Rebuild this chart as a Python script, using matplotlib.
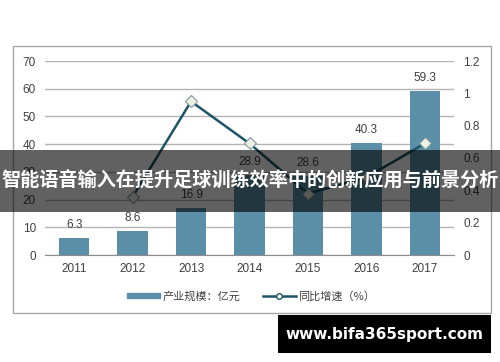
import matplotlib
matplotlib.use("Agg")
import matplotlib.pyplot as plt
from matplotlib.patches import Rectangle
from matplotlib.lines import Line2D

plt.rcParams['font.family'] = ['Liberation Sans', 'Noto Sans CJK SC', 'DejaVu Sans']

years = ["2011", "2012", "2013", "2014", "2015", "2016", "2017"]
scale = [6.3, 8.6, 16.9, 28.9, 28.6, 40.3, 59.3]
scale_labels = ["6.3", "8.6", "16.9", "28.9", "28.6", "40.3", "59.3"]
growth_years = ["2012", "2013", "2014", "2015", "2016", "2017"]
growth = [0.36, 0.95, 0.69, 0.38, 0.48, 0.69]
left_ticks = [0, 10, 20, 30, 40, 50, 60, 70]
right_ticks = [0, 0.2, 0.4, 0.6, 0.8, 1.0, 1.2]
right_tick_labels = ["0", "0.2", "0.4", "0.6", "0.8", "1", "1.2"]
title = "智能语音输入在提升足球训练效率中的创新应用与前景分析"
legend_bar = "产业规模：亿元"
legend_line = "同比增速（%）"
watermark = "www.bifa365sport.com"

W, H = 500, 362
fig = plt.figure(figsize=(W / 100, H / 100), dpi=100)
fig.patch.set_facecolor("white")

def fx(px):
    return px / W

def fy(py):
    return 1 - py / H

# outer chart border
fig.patches.append(Rectangle((fx(13), fy(313)), fx(491) - fx(13), fy(46) - fy(313),
                             transform=fig.transFigure, fill=False,
                             edgecolor="#a6a6a6", linewidth=1.0, zorder=0))

ax = fig.add_axes([fx(45), fy(255), fx(454) - fx(45), fy(61) - fy(255)])
x = list(range(len(years)))
bar_color = "#5b8fa7"
ax.bar(x, scale, width=0.52, color=bar_color, zorder=2)
for xi, v, lab in zip(x, scale, scale_labels):
    ax.annotate(lab, (xi, v), xytext=(0, 5), textcoords="offset points",
                ha="center", va="bottom", fontsize=8.5, color="#404040")
ax.set_ylim(0, 70)
ax.set_xlim(-0.5, len(years) - 0.5)
ax.set_yticks(left_ticks)
ax.set_xticks(x)
ax.set_xticklabels(years)
ax.yaxis.grid(True, color="#b4b4b4", linewidth=1.0, zorder=0)
ax.set_axisbelow(True)
for s in ["top", "right", "left"]:
    ax.spines[s].set_visible(False)
ax.spines["bottom"].set_color("#8c8c8c")
ax.tick_params(axis="both", length=0, labelsize=8.5, labelcolor="#404040")
ax.tick_params(axis="y", pad=6.5)
ax.tick_params(axis="x", pad=6)

ax2 = ax.twinx()
gx = [years.index(y) for y in growth_years]
line_color = "#1d5466"
ax2.plot(gx, growth, color=line_color, linewidth=1.8, marker="D", markersize=6.5,
         markerfacecolor="#eef0e2", markeredgecolor="#7d9aa3", markeredgewidth=0.8, zorder=3)
ax2.set_ylim(0, 1.2)
ax2.set_yticks(right_ticks)
ax2.set_yticklabels(right_tick_labels)
for s in ["top", "right", "left", "bottom"]:
    ax2.spines[s].set_visible(False)
ax2.tick_params(axis="y", length=0, labelsize=8.5, labelcolor="#404040", pad=6.5)

handles = [Rectangle((0, 0), 1, 1, color=bar_color),
           Line2D([0], [0], color=line_color, linewidth=1.8, marker="o", markersize=4,
                  markerfacecolor="white", markeredgecolor=line_color)]
fig.legend(handles, [legend_bar, legend_line], loc="center", bbox_to_anchor=(fx(251), fy(296)),
           ncol=2, frameon=False, handlelength=3.0, handleheight=0.35,
           columnspacing=2.0, handletextpad=0.2, labelcolor="#404040",
           prop={"family": ["Noto Sans CJK SC", "DejaVu Sans"], "size": 8})

# title banner
fig.patches.append(Rectangle((0, fy(212)), 1, fy(150) - fy(212), transform=fig.transFigure,
                             facecolor="black", alpha=0.62, edgecolor="none", zorder=10))
fig.text(0.5, fy(181), title, ha="center", va="center", color="white", fontsize=13.8,
         fontweight="bold", family=["Noto Sans CJK SC", "DejaVu Sans"], zorder=11)

# watermark
fig.patches.append(Rectangle((fx(278), fy(353)), fx(491) - fx(278), fy(315) - fy(353),
                             transform=fig.transFigure, facecolor="black", edgecolor="none", zorder=10))
fig.text(fx(384), fy(334), watermark, ha="center", va="center", color="white", fontsize=11,
         fontweight="bold", family=["DejaVu Sans"], zorder=11)

fig.savefig("out.png", dpi=100)
